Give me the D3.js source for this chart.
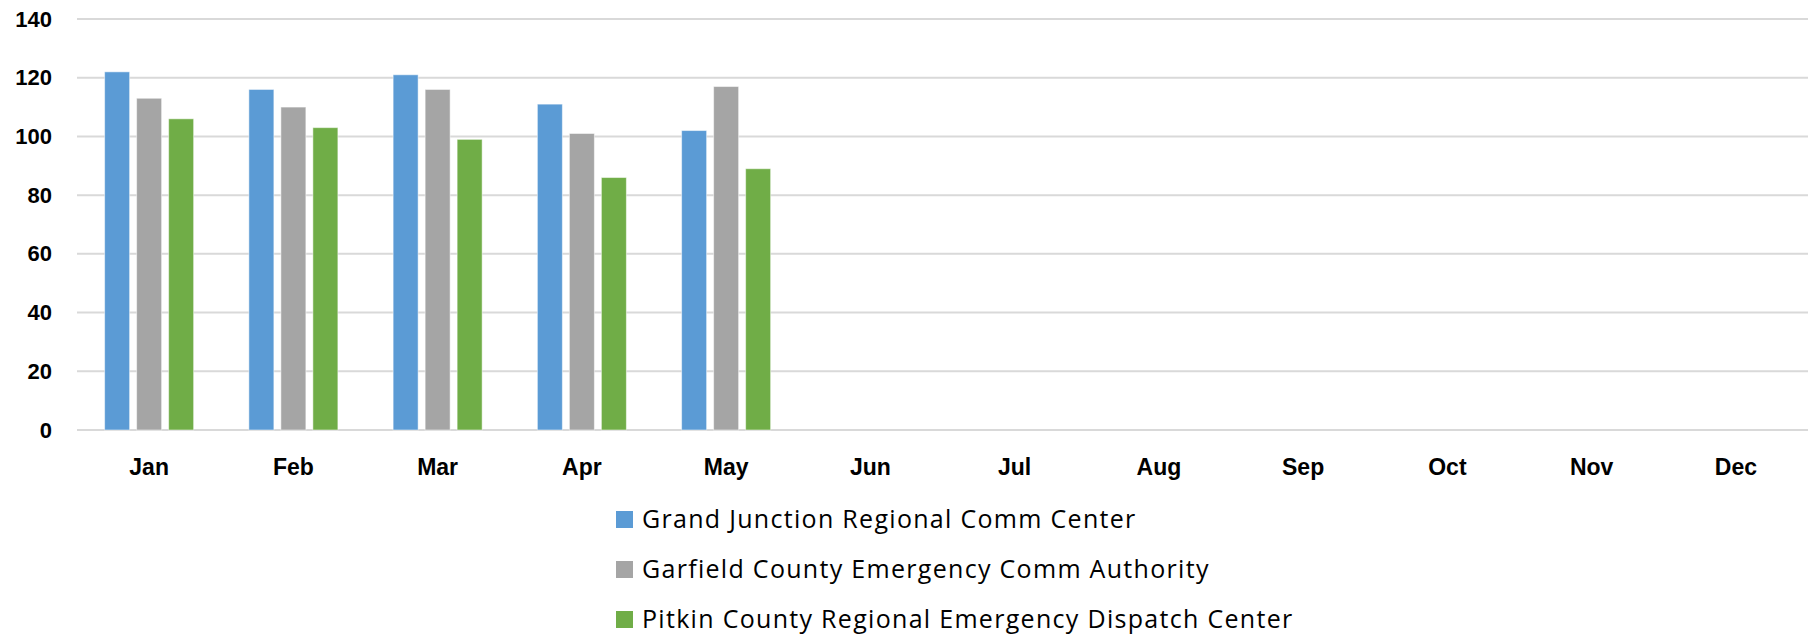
<!DOCTYPE html>
<html>
<head>
<meta charset="utf-8">
<script src="https://cdn.jsdelivr.net/npm/d3@7"></script>
<style>
  body { margin: 0; background: #fff; }
</style>
</head>
<body>
<div class="chartWrapper"></div>
<script>
var months = ["Jan", "Feb", "Mar", "Apr", "May", "Jun", "Jul", "Aug", "Sep", "Oct", "Nov", "Dec"];
var seriesNames = [
    "Grand Junction Regional Comm Center",
    "Garfield County Emergency Comm Authority",
    "Pitkin County Regional Emergency Dispatch Center"
];
var grandJunction = [122, 116, 121, 111, 102];
var garfield = [113, 110, 116, 101, 117];
var pitkin = [106, 103, 99, 86, 89];
var yTicks = [0, 20, 40, 60, 80, 100, 120, 140];
var colors = ["#5b9bd5", "#a5a5a5", "#70ad47"];

var width = 1820,
    height = 636,
    padding = { top: 19, right: 12, bottom: 206, left: 77 };

var allSeries = [grandJunction, garfield, pitkin];

var svg = d3.select(".chartWrapper")
    .append("svg")
    .attr("width", width)
    .attr("height", height);

var x0 = d3.scaleBand()
    .domain(months)
    .range([padding.left, width - padding.right])
    .padding(0);

var x1 = d3.scaleBand()
    .domain(d3.range(seriesNames.length))
    .range([0, x0.bandwidth()])
    .paddingInner(0.21875)
    .paddingOuter(0.863);

var y = d3.scaleLinear()
    .domain([0, 140])
    .range([height - padding.bottom, padding.top]);

// gridlines
svg.append("g")
    .selectAll("line")
    .data(yTicks)
    .enter()
    .append("line")
    .attr("x1", padding.left)
    .attr("x2", width - padding.right)
    .attr("y1", function (d) { return y(d); })
    .attr("y2", function (d) { return y(d); })
    .attr("stroke", "#d9d9d9")
    .attr("stroke-width", 2);

// y axis labels
var yAxis = d3.axisLeft(y).tickValues(yTicks).tickSize(0).tickPadding(0);
var gy = svg.append("g")
    .attr("transform", "translate(" + 52 + ",0)")
    .call(yAxis);
gy.select(".domain").remove();
gy.selectAll("text")
    .attr("font-family", "'Liberation Sans', Arial, sans-serif")
    .attr("font-weight", "bold")
    .attr("font-size", "22px")
    .attr("fill", "#000");

// bars
var groups = svg.append("g")
    .selectAll("g")
    .data(allSeries)
    .enter()
    .append("g")
    .attr("fill", function (d, i) { return colors[i]; });

groups.each(function (vals, si) {
    d3.select(this).selectAll("rect")
        .data(vals)
        .enter()
        .append("rect")
        .attr("x", function (d, i) { return x0(months[i]) + x1(si); })
        .attr("width", x1.bandwidth())
        .attr("y", function (d) { return y(d); })
        .attr("height", function (d) { return y(0) - y(d); })
        .attr("stroke", "#ffffff")
        .attr("stroke-opacity", 0.5)
        .attr("stroke-width", 1);
});

// x axis labels
var xAxis = d3.axisBottom(x0).tickSize(0).tickPadding(0);
var gx = svg.append("g")
    .attr("transform", "translate(0," + (y(0) + 45) + ")")
    .call(xAxis);
gx.select(".domain").remove();
gx.selectAll("text")
    .attr("dy", "0")
    .attr("font-family", "'Liberation Sans', Arial, sans-serif")
    .attr("font-weight", "bold")
    .attr("font-size", "23px")
    .attr("fill", "#000");

// legend
var legend = svg.append("g")
    .selectAll("g")
    .data(seriesNames)
    .enter()
    .append("g")
    .attr("transform", function (d, i) {
        return "translate(616," + (519.5 + i * 50) + ")";
    });

legend.append("rect")
    .attr("x", 0)
    .attr("y", -8.5)
    .attr("width", 17)
    .attr("height", 17)
    .attr("fill", function (d, i) { return colors[i]; });

legend.append("text")
    .attr("x", 26)
    .attr("dy", "0.33em")
    .attr("font-family", "'Open Sans', 'Liberation Sans', sans-serif")
    .attr("font-size", "25px")
    .attr("letter-spacing", "1.3px")
    .attr("fill", "#000")
    .text(function (d) { return d; });
</script>
</body>
</html>
